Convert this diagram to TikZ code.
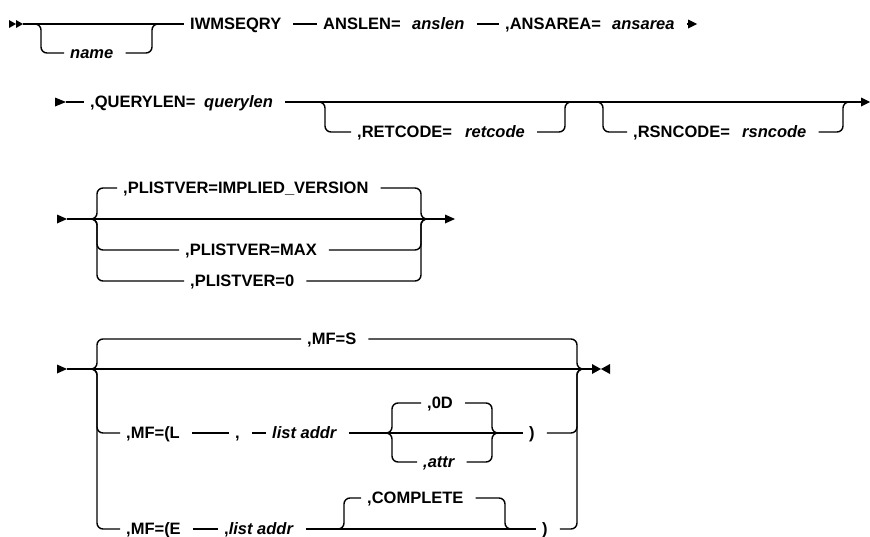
\documentclass[tikz,border=0pt]{standalone}
\usepackage{fontspec}
\setmainfont{Liberation Sans}

\tikzset{
  rail/.style={line width=1.4pt},
  branch/.style={rail, rounded corners=6pt},
  kw/.style={font=\fontsize{16.5}{19}\selectfont\bfseries, inner xsep=6pt, inner ysep=0pt,
    text height=11.8pt, text depth=0pt, anchor=west, execute at end node={\kern6pt}},
  var/.style={kw, font=\fontsize{16.5}{19}\selectfont\bfseries\itshape},
}

\begin{document}
\begin{tikzpicture}[x=1pt,y=-1pt]
\useasboundingbox (0,0) rectangle (870,536);

% line 1
\fill (9,20) -- (16,24) -- (9,28) -- cycle;
\fill (16,20) -- (23,24) -- (16,28) -- cycle;
\coordinate (s1) at (23,24);
\coordinate (n1l) at (41,24);
\coordinate (n1r) at (152,24);
\coordinate (e1) at (688,24);
\node[var] (name) at (64,53) {name};
\node[kw] (iwm) at (184,24) {IWMSEQRY};
\node[kw] (anslenkw) at (317,24) {ANSLEN=};
\node[var] (anslen) at (406,24) {anslen};
\node[kw] (ansareakw) at (499,24) {,ANSAREA=};
\node[var] (ansarea) at (606,24) {ansarea};
\draw[rail] (s1) -- (iwm.west);
\draw[branch] ([xshift=-6pt]n1l) -| (n1l |- name.west) -- (name.west);
\draw[branch] (name.east) -| (n1r) -- ++(6,0);
\draw[rail] (iwm.east) -- (anslenkw.west);
\draw[rail] (anslen.east) -- (ansareakw.west);
\draw[rail] (ansarea.east) -- (e1);
\fill (688,19.5) -- (697,24) -- (688,28.5) -- cycle;

% line 2
\fill (55,97.5) -- (66,102) -- (55,106.5) -- cycle;
\coordinate (s2) at (66,102);
\coordinate (r1l) at (325,102);
\coordinate (r1r) at (565,102);
\coordinate (r2l) at (603,102);
\coordinate (r2r) at (843,102);
\coordinate (e2) at (861,102);
\node[kw] (qlkw) at (84,102) {,QUERYLEN=};
\node[var] (ql) at (198,102) {querylen};
\node[kw] (rckw) at (351,132) {,RETCODE=};
\node[var] (rc) at (459,132) {retcode};
\node[kw] (rskw) at (627,132) {,RSNCODE=};
\node[var] (rs) at (736,132) {rsncode};
\draw[rail] (s2) -- (qlkw.west);
\draw[rail] (ql.east) -- (e2);
\draw[branch] ([xshift=-6pt]r1l) -| (r1l |- rckw.west) -- (rckw.west);
\draw[branch] (rc.east) -| (r1r) -- ++(6,0);
\draw[branch] ([xshift=-6pt]r2l) -| (r2l |- rskw.west) -- (rskw.west);
\draw[branch] (rs.east) -| (r2r) -- ++(6,0);
\fill (861,97.5) -- (870,102) -- (861,106.5) -- cycle;

% line 3
\fill (57,214.5) -- (67,219) -- (57,223.5) -- cycle;
\coordinate (s3) at (67,219);
\coordinate (pl) at (97,219);
\coordinate (pr) at (421,219);
\coordinate (e3) at (445,219);
\node[kw] (impl) at (117,188) {,PLISTVER=IMPLIED\_VERSION};
\node[kw] (max) at (179,250) {,PLISTVER=MAX};
\node[kw] (zero) at (184,281) {,PLISTVER=0};
\draw[rail] (s3) -- (e3);
\draw[branch] ([xshift=-6pt]pl) -| (pl |- impl.west) -- (impl.west);
\draw[branch] (impl.east) -| (pr) -- ++(6,0);
\draw[branch] ([xshift=-6pt]pl) -| (pl |- max.west) -- (max.west);
\draw[branch] (max.east) -| (pr) -- ++(6,0);
\draw[branch] ([xshift=-6pt]pl) -| (pl |- zero.west) -- (zero.west);
\draw[branch] (zero.east) -| (pr) -- ++(6,0);
\fill (445,214.5) -- (455,219) -- (445,223.5) -- cycle;

% line 4
\fill (57,364.5) -- (67,369) -- (57,373.5) -- cycle;
\coordinate (s4) at (67,369);
\coordinate (ml) at (97,369);
\coordinate (mr) at (577,369);
\coordinate (e4) at (592,369);
\coordinate (dl) at (392,433);
\coordinate (dr) at (492,433);
\coordinate (cl) at (344,529);
\coordinate (cr) at (505,529);
\node[kw] (mfs) at (301,339) {,MF=S};
\node[kw] (mfl) at (120,433) {,MF=(L};
\node[kw] (comma) at (229,433) {,};
\node[var] (la) at (266,433) {list addr};
\node[kw] (od) at (421,403) {,0D};
\node[var] (attr) at (417,462) {,attr};
\node[kw] (rpl) at (523,433) {)};
\node[kw] (mfe) at (120,529) {,MF=(E};
\node[kw] (le) at (218,529) {,\textit{list addr}};
\node[kw] (comp) at (361,498) {,COMPLETE};
\node[kw] (rpe) at (536,529) {)};
\draw[rail] (s4) -- (e4);
\draw[branch] ([xshift=-6pt]ml) -| (ml |- mfs.west) -- (mfs.west);
\draw[branch] (mfs.east) -| (mr) -- ++(6,0);
% MF=(L
\draw[branch] ([xshift=-6pt]ml) -| (ml |- mfl.west) -- (mfl.west);
\draw[rail] (mfl.east) -- (comma.west);
\draw[rail] (comma.east) -- (la.west);
\draw[rail] (la.east) -- (rpl.west);
\draw[branch] ([xshift=-6pt]dl) -| (dl |- od.west) -- (od.west);
\draw[branch] (od.east) -| (dr) -- ++(6,0);
\draw[branch] ([xshift=-6pt]dl) -| (dl |- attr.west) -- (attr.west);
\draw[branch] (attr.east) -| (dr) -- ++(6,0);
\draw[branch] (rpl.east) -| (mr) -- ++(6,0);
% MF=(E
\draw[branch] ([xshift=-6pt]ml) -| (ml |- mfe.west) -- (mfe.west);
\draw[rail] (mfe.east) -- (le.west);
\draw[rail] (le.east) -- (rpe.west);
\draw[branch] ([xshift=-6pt]cl) -| (cl |- comp.west) -- (comp.west);
\draw[branch] (comp.east) -| (cr) -- ++(6,0);
\draw[branch] (rpe.east) -| (mr) -- ++(6,0);
\fill (592,364) -- (601,369) -- (592,374) -- cycle;
\fill (610,364) -- (601,369) -- (610,374) -- cycle;

\end{tikzpicture}
\end{document}
